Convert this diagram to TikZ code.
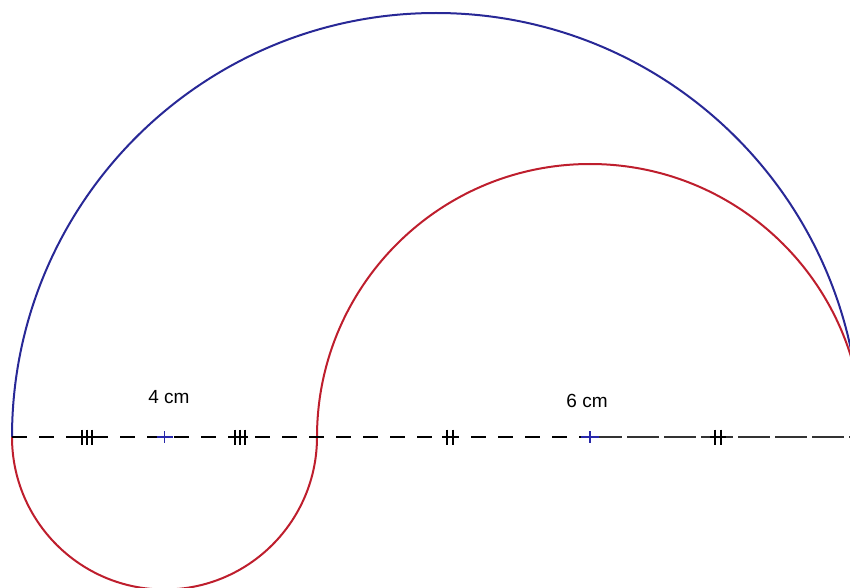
\documentclass[tikz,border=0pt]{standalone}
\usepackage{fontspec}
\setmainfont{Liberation Sans}
\usetikzlibrary{calc}
\definecolor{arcblue}{RGB}{40,40,150}
\definecolor{arcred}{RGB}{190,30,45}
\definecolor{crossblue}{RGB}{40,40,170}
\tikzset{
  bluearc/.style={draw=arcblue, line width=2pt},
  redarc/.style={draw=arcred, line width=2pt},
  axisleft/.style={draw=black, line width=1.8pt, dash pattern=on 15pt off 12pt},
  axisright/.style={draw=black!80, line width=1.4pt, dash pattern=on 32pt off 5pt},
  centercross/.style={draw=crossblue, line width=1.6pt},
  ticksty/.style={draw=black, line width=1.5pt},
  lbl/.style={font=\fontsize{19}{22}\selectfont, anchor=base, inner sep=0pt},
  tickthree/.pic={\foreach \dx in {-5,0,5} \draw[ticksty] (\dx,-7.5) -- (\dx,7.5);
                  \draw[ticksty] (-9,0) -- (8,0);},
  ticktwo/.pic={\foreach \dx in {-3,3} \draw[ticksty] (\dx,-7.5) -- (\dx,7.5);
                \draw[ticksty] (-8,0) -- (8,0);}
}
\begin{document}
\begin{tikzpicture}[x=1pt,y=-1pt]
\useasboundingbox (0,0) rectangle (850,588);
\clip (0,0) rectangle (850,588);
\coordinate (A) at (12,437);
\coordinate (B) at (317,437);
\coordinate (O1) at (164.5,437);
\coordinate (O2) at (590,437);
\coordinate (E) at (852,437);
% arcs
\draw[bluearc] (A) arc[start angle=180, end angle=360, radius=424];
\draw[redarc] (A) arc[start angle=180, end angle=0, radius=152.5];
\draw[redarc] (B) arc[start angle=180, end angle=360, radius=273];
% axis
\draw[axisleft] (A) -- (O2);
\draw[axisright] (O2) -- (E);
% ticks
\pic at (87,437) {tickthree};
\pic at (240,437) {tickthree};
\pic at (450,437) {ticktwo};
\pic at (718,437) {ticktwo};
% centres
\draw[centercross] ($(O1)+(-8,0)$) -- ($(O1)+(8,0)$) ($(O1)+(0,-6)$) -- ($(O1)+(0,6)$);
\draw[centercross] ($(O2)+(-9,0)$) -- ($(O2)+(9,0)$) ($(O2)+(0,-6)$) -- ($(O2)+(0,6)$);
% labels
\node[lbl] (l4) at (169,403) {4 cm};
\node[lbl] (l6) at (587,407) {6 cm};
\end{tikzpicture}
\end{document}
